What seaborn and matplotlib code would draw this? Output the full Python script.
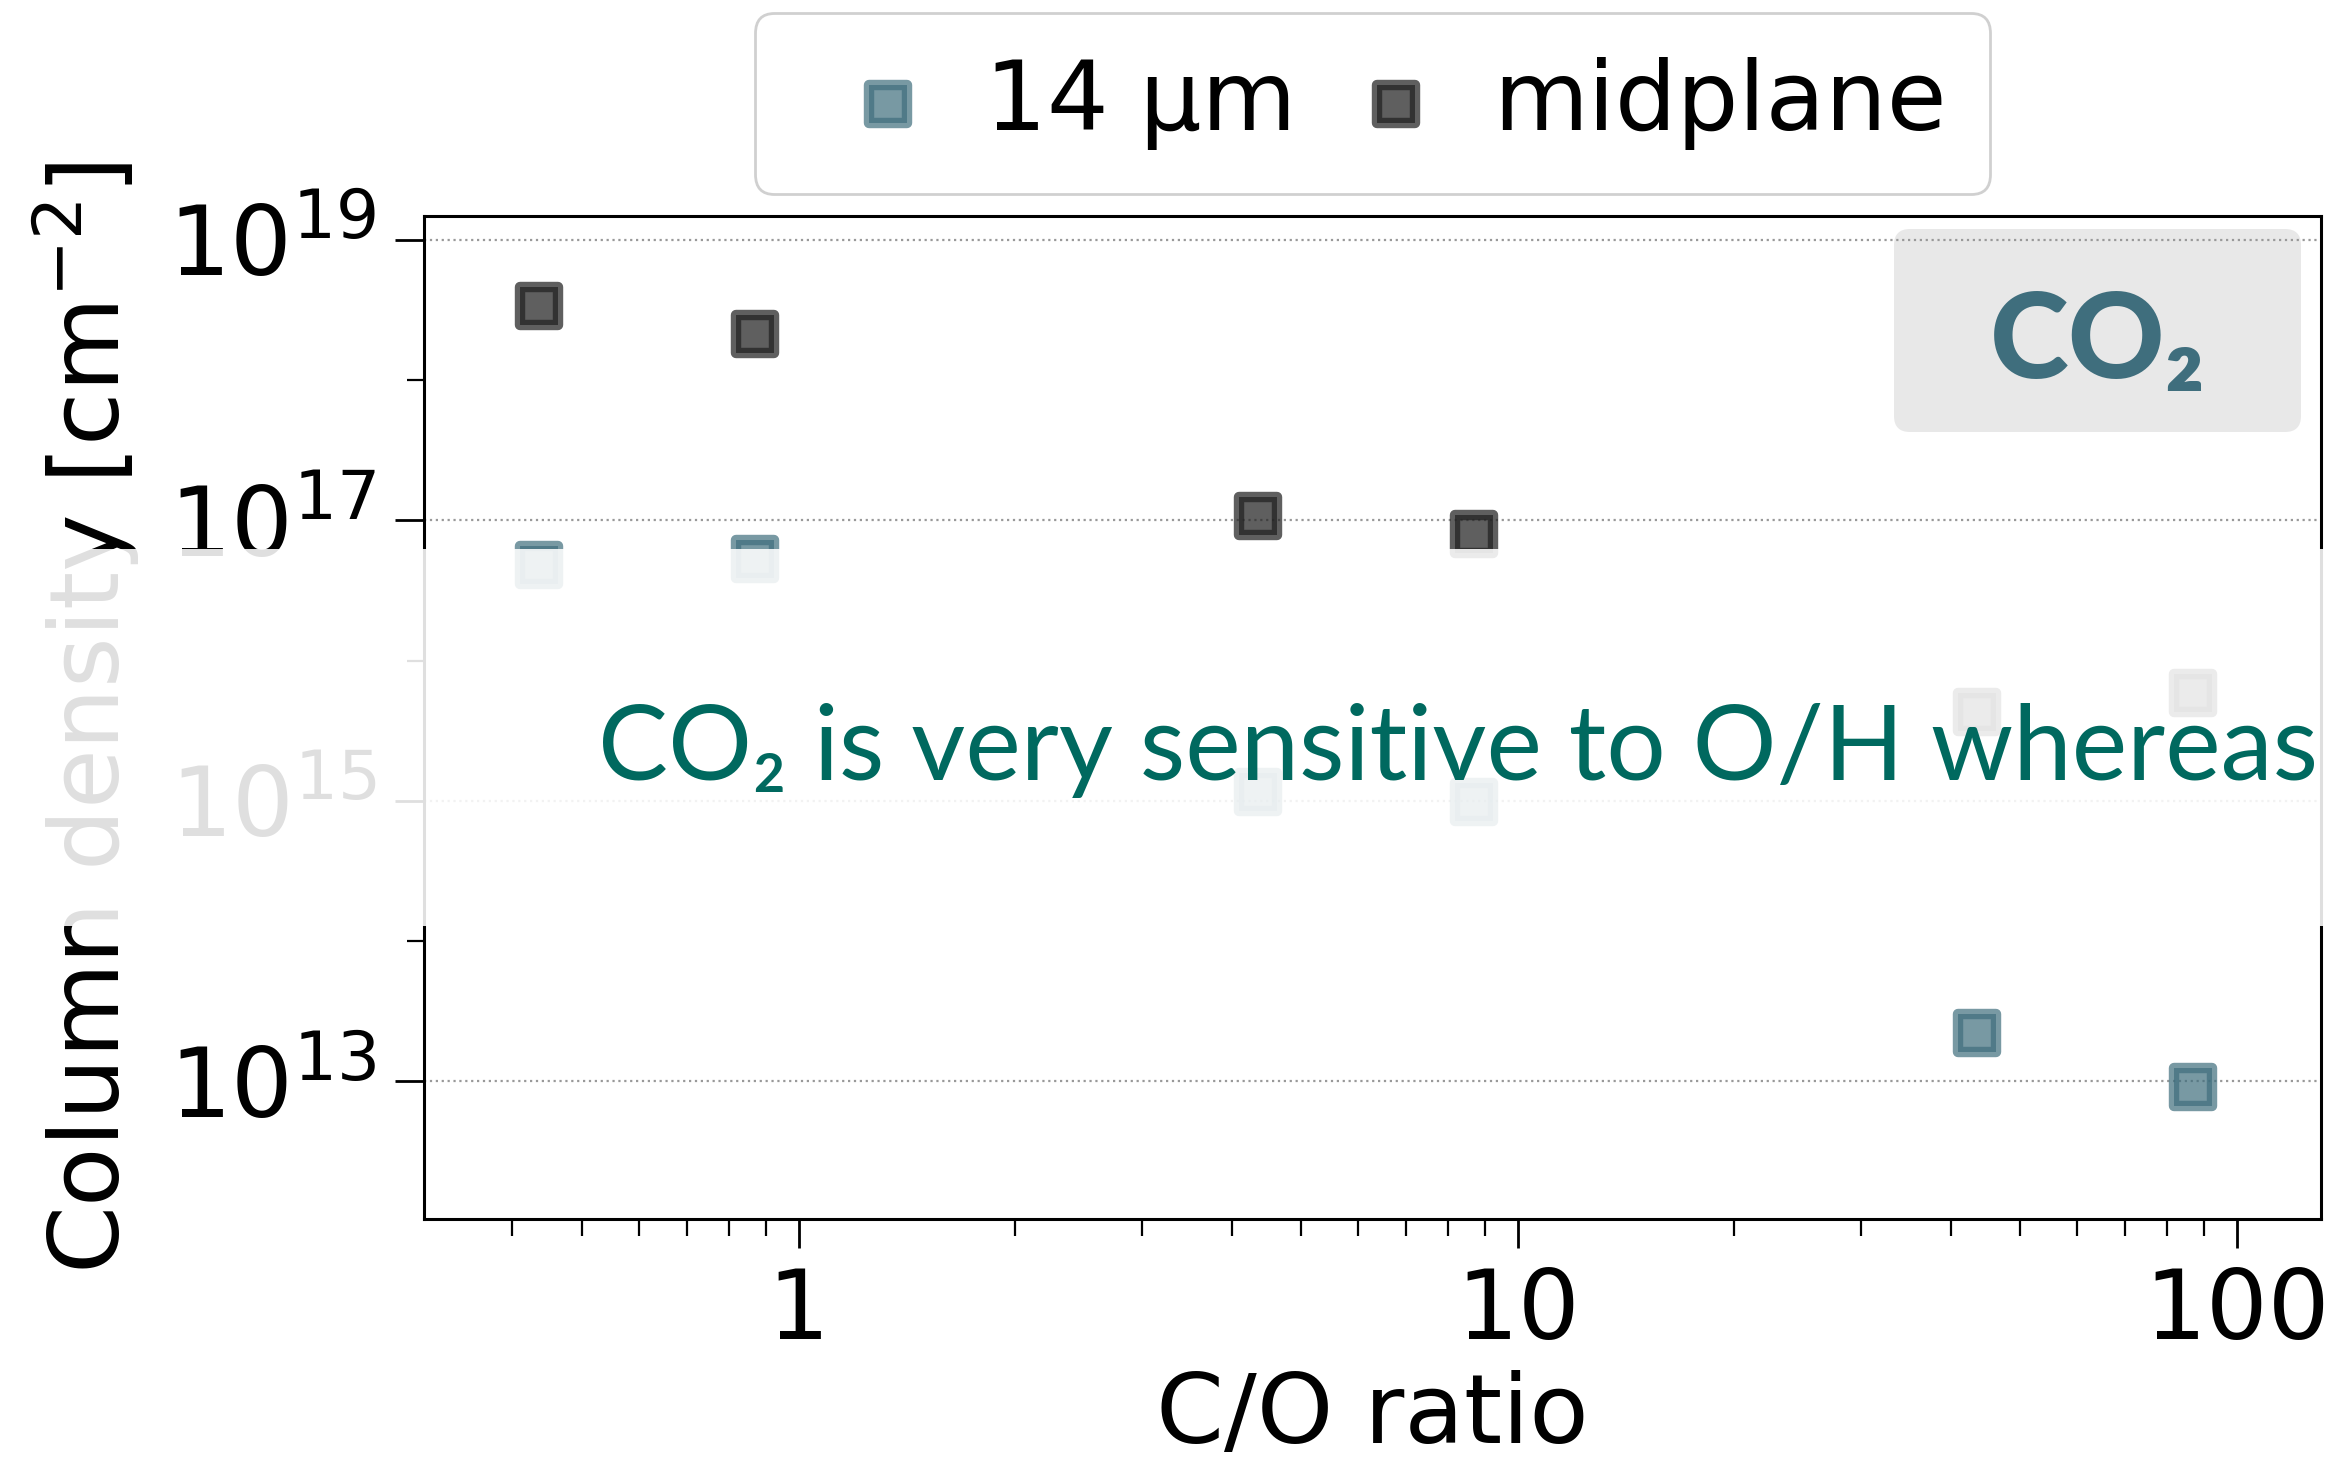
import matplotlib
matplotlib.use("Agg")
import matplotlib.pyplot as plt
import seaborn as sns
import pandas as pd
from matplotlib.patches import FancyBboxPatch, Rectangle
from matplotlib.transforms import IdentityTransform
from matplotlib.ticker import (FixedLocator, NullFormatter, LogFormatterSciNotation,
                               StrMethodFormatter)

# ---------------- data ----------------
co_ratio = [0.435, 0.87, 4.35, 8.7, 43.5, 87.0]
n_14um = [4.8e16, 5.26e16, 1.16e15, 9.8e14, 2.19e13, 9.0e12]
n_midplane = [3.38e18, 2.14e18, 1.07e17, 8.0e16, 4.3e15, 5.9e15]
series_labels = ["14 µm", "midplane"]
y_major_ticks = [1e13, 1e15, 1e17, 1e19]
y_minor_ticks = [1e14, 1e16, 1e18]
band_text = "CO₂ is very sensitive to O/H whereas"
box_text = "CO₂"

# ---------------- style ----------------
sns.set_theme(style="ticks")
plt.rcParams["font.family"] = ["DejaVu Sans"]
plt.rcParams["axes.edgecolor"] = "black"
plt.rcParams["axes.labelcolor"] = "black"
plt.rcParams["text.color"] = "black"
plt.rcParams["xtick.color"] = "black"
plt.rcParams["ytick.color"] = "black"

W, H = 2331, 1464
fig = plt.figure(figsize=(W / 100, H / 100), dpi=100)
fig.patch.set_facecolor("white")
ax = fig.add_axes([424 / W, 1 - 1219 / H, (2321 - 424) / W, (1219 - 216) / H])
ax.set_xscale("log")
ax.set_yscale("log")

df14 = pd.DataFrame({"co": co_ratio, "n": n_14um})
dfmid = pd.DataFrame({"co": co_ratio, "n": n_midplane})

sns.scatterplot(data=df14, x="co", y="n", ax=ax, marker="s", s=729,
                color="#3f6e7d", edgecolor="#3f6e7d", linewidth=7.5, alpha=0.7,
                label=series_labels[0], zorder=3)
sns.scatterplot(data=dfmid, x="co", y="n", ax=ax, marker="s", s=729,
                color="#222222", edgecolor="#222222", linewidth=7.5, alpha=0.725,
                label=series_labels[1], zorder=3)

ax.set_xlim(10 ** -0.521, 10 ** 2.117)
ax.set_ylim(10 ** 12.016, 10 ** 19.171)

ax.yaxis.set_major_locator(FixedLocator(y_major_ticks))
ax.yaxis.set_minor_locator(FixedLocator(y_minor_ticks))
ax.yaxis.set_major_formatter(LogFormatterSciNotation())
ax.yaxis.set_minor_formatter(NullFormatter())
ax.xaxis.set_major_formatter(StrMethodFormatter("{x:g}"))
ax.xaxis.set_minor_formatter(NullFormatter())

ax.tick_params(axis="both", which="major", length=21, width=2, labelsize=70,
               pad=13, direction="out")
ax.tick_params(axis="both", which="minor", length=12, width=1.6, direction="out")
for sp in ax.spines.values():
    sp.set_linewidth(2.2)
    sp.set_color("black")

ax.set_axisbelow(True)
ax.yaxis.grid(True, which="major", linestyle=":", color="#999999", linewidth=1.6)
ax.xaxis.grid(False)

ax.set_xlabel("C/O ratio", fontsize=70, labelpad=7.5)
ax.set_ylabel("Column density [cm$^{-2}$]", fontsize=70, labelpad=19)

leg = ax.legend(loc="lower center", bbox_to_anchor=(0.5, 1.0), ncol=2, fontsize=70,
                frameon=True, fancybox=True, framealpha=1, edgecolor="#d0d0d0",
                borderpad=0.45, handlelength=1.85, handletextpad=0.07,
                columnspacing=0.1, borderaxespad=0.23, scatterpoints=1)
leg.get_frame().set_linewidth(2)

# gray label box inside the axes (behind the grid)
bx0, bx1, by0, by1 = 1894, 2301, 229, 432
ax.add_patch(FancyBboxPatch((bx0, H - by1), bx1 - bx0, by1 - by0,
                            boxstyle="round,pad=0,rounding_size=16",
                            transform=IdentityTransform(), facecolor="#e8e8e8",
                            edgecolor="none", zorder=0.2))
fig.text(2098 / W, (H - 378) / H, box_text, ha="center", va="baseline",
         fontsize=86, fontweight="black", color="#3f6e7d",
         family=["Lato", "DejaVu Sans"], zorder=5)

# translucent white band across the figure with the overlay sentence
band_top, band_bot = 549, 926
fig.add_artist(Rectangle((0, 1 - band_bot / H), 1, (band_bot - band_top) / H,
                         transform=fig.transFigure, facecolor="white",
                         edgecolor="none", alpha=0.88, zorder=10))
fig.text(598 / W, (H - 780) / H, band_text, ha="left", va="baseline",
         fontsize=75.5, color="#00695f", family=["Lato", "DejaVu Sans"], zorder=11)

fig.savefig("out.png", dpi=100)
